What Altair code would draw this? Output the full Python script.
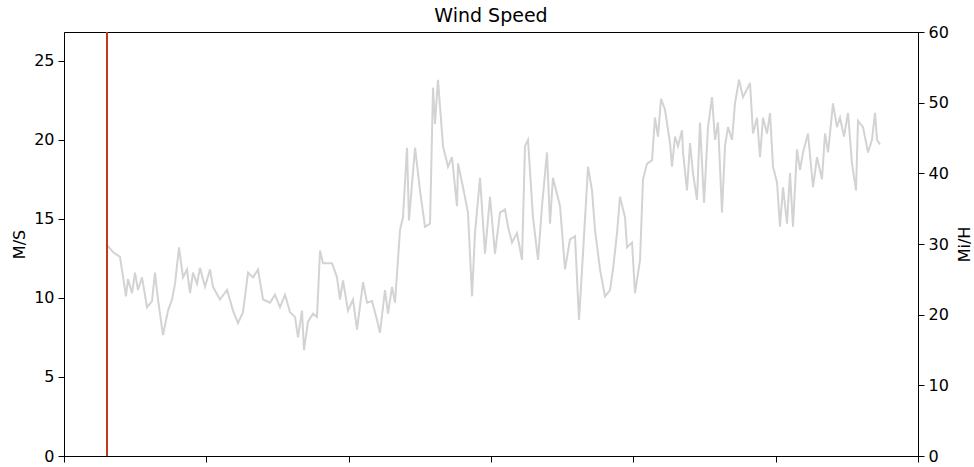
import altair as alt
import pandas as pd

# elapsed time (hours) and wind speed (m/s)
hours = [7.25, 8.26, 9.44, 10.45, 10.79, 11.47, 11.97, 12.48, 13.15, 14.00,
         14.84, 15.34, 15.85, 16.69, 17.54, 18.21, 18.72, 19.39, 20.07, 20.74,
         21.25, 21.75, 22.43, 22.93, 23.78, 24.62, 25.12, 26.30, 27.49, 28.50,
         29.34, 30.18, 31.03, 31.87, 32.71, 33.56, 34.74, 35.58, 36.42, 37.27,
         38.11, 38.95, 39.46, 40.13, 40.47, 41.14, 41.99, 42.66, 43.17, 43.67,
         44.52, 45.19, 46.03, 46.54, 47.04, 47.89, 48.73, 49.41, 50.42, 51.09,
         51.93, 52.78, 53.28, 54.13, 54.63, 55.31, 55.81, 56.66, 57.16, 57.84,
         58.17, 59.19, 60.03, 60.87, 61.72, 62.22, 62.56, 63.06, 63.91, 64.75,
         65.42, 66.27, 66.44, 67.28, 68.12, 68.80, 69.30, 70.15, 70.99, 71.83,
         72.67, 73.52, 74.36, 74.87, 75.54, 76.38, 77.23, 77.73, 78.24, 79.08,
         79.93, 80.60, 81.44, 81.95, 82.45, 83.64, 84.48, 85.32, 86.17, 86.84,
         87.51, 88.36, 89.03, 89.54, 90.38, 91.22, 92.07, 92.57, 93.25, 93.75,
         94.60, 94.93, 95.78, 96.28, 97.13, 97.63, 98.31, 99.15, 99.65, 100.16,
         100.67, 101.34, 102.18, 102.52, 103.03, 103.53, 104.21, 104.38, 105.05, 105.56,
         106.06, 106.74, 107.24, 107.92, 108.59, 109.27, 109.77, 110.28, 110.95, 111.46,
         111.96, 112.64, 113.14, 113.82, 114.49, 115.17, 115.67, 116.18, 116.85, 117.36,
         117.87, 118.54, 119.05, 119.55, 120.23, 120.73, 121.24, 121.91, 122.42, 122.92,
         123.60, 124.10, 124.61, 125.45, 126.30, 126.97, 127.81, 128.32, 128.83, 129.67,
         130.34, 130.85, 131.52, 132.20, 132.87, 133.55, 133.88, 134.73, 135.57, 136.24,
         136.75, 137.09, 137.59]

speed_ms = [13.35, 12.9, 12.6, 10.1, 11.2, 10.3, 11.6, 10.5, 11.3, 9.4,
            9.8, 11.6, 9.9, 7.65, 9.2, 9.9, 10.9, 13.2, 11.3, 11.8,
            10.3, 11.6, 10.9, 11.9, 10.7, 11.8, 10.7, 9.9, 10.5, 9.2,
            8.4, 9.1, 11.6, 11.3, 11.8, 9.9, 9.7, 10.2, 9.4, 10.2,
            9.1, 8.8, 7.5, 9.2, 6.7, 8.5, 9.0, 8.8, 13.0, 12.2,
            12.2, 12.2, 11.3, 9.9, 11.1, 9.2, 9.9, 8.0, 11.0, 9.7,
            9.8, 8.6, 7.8, 10.5, 9.0, 10.7, 9.7, 14.3, 15.1, 19.5,
            14.9, 19.5, 16.8, 14.5, 14.7, 23.3, 21.0, 23.8, 19.6, 18.3,
            18.9, 15.8, 18.5, 17.0, 15.4, 10.1, 14.1, 17.6, 12.8, 16.4,
            12.8, 15.4, 15.6, 14.5, 13.5, 14.1, 12.4, 19.6, 20.0, 15.1,
            12.4, 15.8, 19.2, 14.7, 17.6, 15.8, 11.8, 13.7, 13.9, 8.6,
            12.8, 18.3, 16.8, 14.3, 11.8, 10.1, 10.5, 11.8, 14.1, 16.4,
            15.1, 13.2, 13.5, 10.3, 12.4, 17.5, 18.5, 18.7, 21.4, 20.2,
            22.6, 21.9, 19.8, 18.3, 20.2, 19.6, 20.6, 19.2, 16.8, 19.8,
            17.9, 16.2, 21.1, 16.0, 20.8, 22.7, 20.0, 21.1, 15.4, 19.6,
            20.8, 20.0, 22.3, 23.8, 22.7, 23.2, 23.6, 20.4, 21.4, 18.9,
            21.4, 20.4, 21.7, 18.3, 17.3, 14.5, 17.0, 14.7, 17.9, 14.5,
            19.4, 18.1, 19.2, 20.4, 17.0, 18.9, 17.5, 20.4, 19.2, 22.3,
            20.8, 21.4, 20.2, 21.7, 18.5, 16.8, 21.2, 20.8, 19.2, 20.0,
            21.7, 20.0, 19.7]

marker_hour = [7.25]
x_ticks = [0, 24, 48, 72, 96, 120, 144]
ms_ticks = [0, 5, 10, 15, 20, 25]
mph_ticks = [0, 10, 20, 30, 40, 50, 60]

FONT = "DejaVu Sans"
df = pd.DataFrame({"hour": hours, "ms": speed_ms})
mk = pd.DataFrame({"hour": marker_hour})

x_enc = alt.X("hour:Q",
              scale=alt.Scale(domain=[0, 144], nice=False, zero=False),
              axis=alt.Axis(values=x_ticks, labels=False, title=None, grid=False,
                            tickSize=6, tickColor="black", domainColor="black"))

base = alt.Chart(df)

line = base.mark_line(color="#d3d3d3", strokeWidth=2).encode(
    x=x_enc,
    y=alt.Y("ms:Q",
            scale=alt.Scale(domain=[0, 26.82], nice=False, zero=True),
            axis=alt.Axis(orient="left", title="M/S", values=ms_ticks, grid=False,
                          tickSize=6, labelPadding=4, titlePadding=6,
                          labelFontSize=16, titleFontSize=16, labelFont=FONT, titleFont=FONT,
                          titleFontWeight="normal", labelColor="black", titleColor="black",
                          tickColor="black", domainColor="black")),
)

mph_layer = base.transform_calculate(mph="datum.ms * 2.23694").mark_line(opacity=0).encode(
    x=x_enc,
    y=alt.Y("mph:Q",
            scale=alt.Scale(domain=[0, 60], nice=False, zero=True),
            axis=alt.Axis(orient="right", title="Mi/H", values=mph_ticks, grid=False,
                          tickSize=6, labelPadding=4, titlePadding=8,
                          titleAngle=270, titleBaseline="top",
                          labelFontSize=16, titleFontSize=16, labelFont=FONT, titleFont=FONT,
                          titleFontWeight="normal", labelColor="black", titleColor="black",
                          tickColor="black", domainColor="black")),
)

rule = alt.Chart(mk).mark_rule(color="#c0391b", strokeWidth=2).encode(x=alt.X("hour:Q"))

chart = alt.layer(line, rule, mph_layer).resolve_scale(y="independent").properties(
    width=854, height=424,
    title=alt.TitleParams("Wind Speed", fontSize=19, font=FONT, fontWeight="normal",
                          color="black", offset=6, anchor="middle", frame="group",
                          dy=8),
    autosize=alt.AutoSizeParams(type="none"),
    padding={"left": 64, "top": 32, "right": 56, "bottom": 11},
).configure_view(stroke="black", strokeWidth=1)

chart.save("out.html", embed_options={"renderer": "svg", "actions": False})
